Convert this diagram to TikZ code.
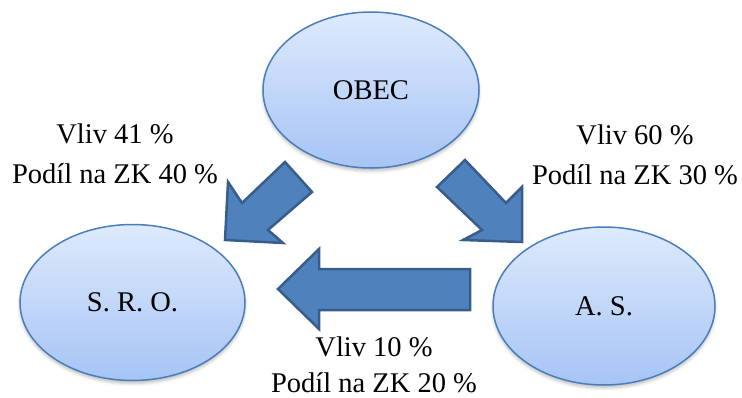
\documentclass[tikz,border=0pt]{standalone}
\usepackage{fontspec}
\setmainfont{Liberation Serif}
\usetikzlibrary{shapes.geometric,shadows.blur}
\definecolor{ellborder}{RGB}{74,126,187}
\definecolor{elltop}{RGB}{222,234,252}
\definecolor{ellbot}{RGB}{166,196,245}
\definecolor{arrfill}{RGB}{79,129,189}
\definecolor{arrborder}{RGB}{56,93,138}
\tikzset{
  entity/.style={ellipse, draw=ellborder, line width=1.5pt, top color=elltop, bottom color=ellbot,
    blur shadow={shadow xshift=0pt, shadow yshift=-3pt, shadow blur radius=3pt, shadow opacity=25},
    inner sep=0pt, font=\fontsize{28.5}{34}\selectfont},
  blockarrow/.style={fill=arrfill, draw=arrborder, line width=2.5pt, line join=miter},
  lbl/.style={align=center, inner sep=0pt, anchor=base, font=\fontsize{28.5}{40}\selectfont}
}
\begin{document}
\begin{tikzpicture}[x=1pt,y=-1pt]
\useasboundingbox (0,0) rectangle (742,397);
\node[entity, minimum width=216pt, minimum height=156pt] (obec) at (371,90) {\raisebox{-2pt}{OBEC}};
\node[entity, minimum width=225pt, minimum height=156pt] (sro) at (132.5,302.5) {\raisebox{-2pt}{S. R. O.}};
\node[entity, minimum width=222pt, minimum height=158pt] (as) at (604,306) {\raisebox{-3pt}{A. S.}};
% block arrows
\draw[blockarrow] (225,240) -- (228,182) -- (242,203) -- (285,162) -- (312,192) -- (268,230) -- (283,243) -- cycle;
\draw[blockarrow] (522,242) -- (463,240) -- (482,230) -- (437,187) -- (465,160) -- (506,203) -- (522,187) -- cycle;
\draw[blockarrow] (278,289) -- (319,249) -- (319,269) -- (470,269) -- (470,310) -- (319,310) -- (319,329) -- cycle;
% labels
\node[lbl] (l1) at (115,183) {Vliv 41 \%\\Podíl na ZK 40 \%};
\node[lbl] (l2) at (635,184) {Vliv 60 \%\\Podíl na ZK 30 \%};
\node[lbl, font=\fontsize{28.5}{36}\selectfont] (l3) at (374,392) {Vliv 10 \%\\Podíl na ZK 20 \%};
\end{tikzpicture}
\end{document}
